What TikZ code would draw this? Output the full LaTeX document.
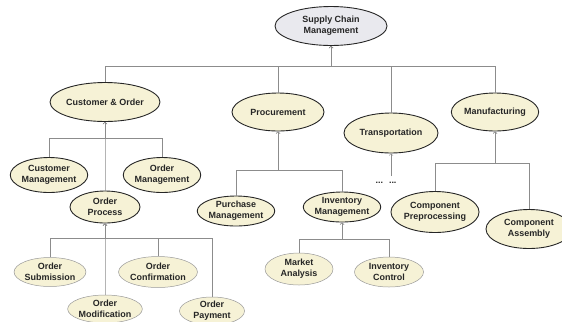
\documentclass[tikz,border=0pt]{standalone}
\usepackage{fontspec}
\setmainfont{Liberation Sans}
\usetikzlibrary{shapes.geometric}
\definecolor{boxfill}{HTML}{F6F2D6}
\definecolor{rootfill}{HTML}{E9E9EE}
\definecolor{edgegray}{HTML}{8C8C8C}

\begin{document}
\begin{tikzpicture}
	[x=1bp,y=-1bp,
	el/.style={ellipse,draw=black!85,line width=.9pt,fill=boxfill,inner sep=0pt,align=center,
		font=\fontsize{9}{11}\selectfont\bfseries,text=black!85},
	lf/.style={el,draw=black!40,line width=.5pt},
	sz/.style 2 args={minimum width=#1bp,minimum height=#2bp}]
	\useasboundingbox (0,0) rectangle (562,321);
	\node[el,sz={112}{39},fill=rootfill] (n1) at (331,26) {Supply Chain\\Management};
	
	\node[el,sz={104}{39}] (n2) at (105,102) {Customer \& Order};
	\node[el,sz={92}{38}] (n3) at (278,112) {Procurement};
	\node[el,sz={94}{40}] (n4) at (391,133) {Transportation};
	\node[el,sz={87}{38}] (n5) at (495,112) {Manufacturing};
	
	\node[el,sz={77}{35}] (n6) at (49,175) {Customer\\Management};
	\node[el,sz={73}{35}] (n7) at (162,175) {Order\\Management};
	\node[el,sz={70}{32}] (n8) at (105,207) {Order\\Process};
	
	\node[lf,sz={66}{29}] (n9) at (50,272) {Order\\Submission};
	\node[lf,sz={64}{28}] (n10) at (105,309) {Order\\Modification};
	\node[lf,sz={70}{31}] (n11) at (158,272) {Order\\Confirmation};
	\node[lf,sz={65}{28}] (n12) at (212,311) {Order\\Payment};
	
	\node[el,sz={74}{30}] (n13) at (236,211) {Purchase\\Management};
	\node[el,sz={73}{30}] (n14) at (342,207) {Inventory\\Management};
	\node[lf,sz={68}{32}] (n15) at (299,269) {Market\\Analysis};
	\node[lf,sz={69}{30}] (n16) at (389,272) {Inventory\\Control};
	
	\node[el,sz={87}{41}] (n17) at (435,212) {Component\\Preprocessing};
	\node[el,sz={86}{39}] (n18) at (529,229) {Component\\Assembly};
	
	\node[font=\fontsize{9}{11}\selectfont\bfseries,text=black!85] (n19) at (386,183) {...\hspace{6bp}...};
	
	\coordinate (b1) at (331,66);
	\coordinate (b2) at (105,138);
	\coordinate (b3) at (105,238);
	\coordinate (b4) at (278,170);
	\coordinate (b5) at (342,239);
	\coordinate (b6) at (495,163);
	\coordinate (t1) at (391,176);
	
	\foreach \from/\to/\bus in {n2/n1/b1,n3/n1/b1,n4/n1/b1,n5/n1/b1,
		n6/n2/b2,n7/n2/b2,n8/n2/b2,
		n9/n8/b3,n10/n8/b3,n11/n8/b3,n12/n8/b3,
		n13/n3/b4,n14/n3/b4,n15/n14/b5,n16/n14/b5,
		n17/n5/b6,n18/n5/b6}
	\draw[->,edgegray,line width=.6pt] (\from.north) |- (\bus) -- (\to.south);
	\draw[->,edgegray,line width=.6pt] (t1) -- (n4.south);
\end{tikzpicture}
\end{document}
